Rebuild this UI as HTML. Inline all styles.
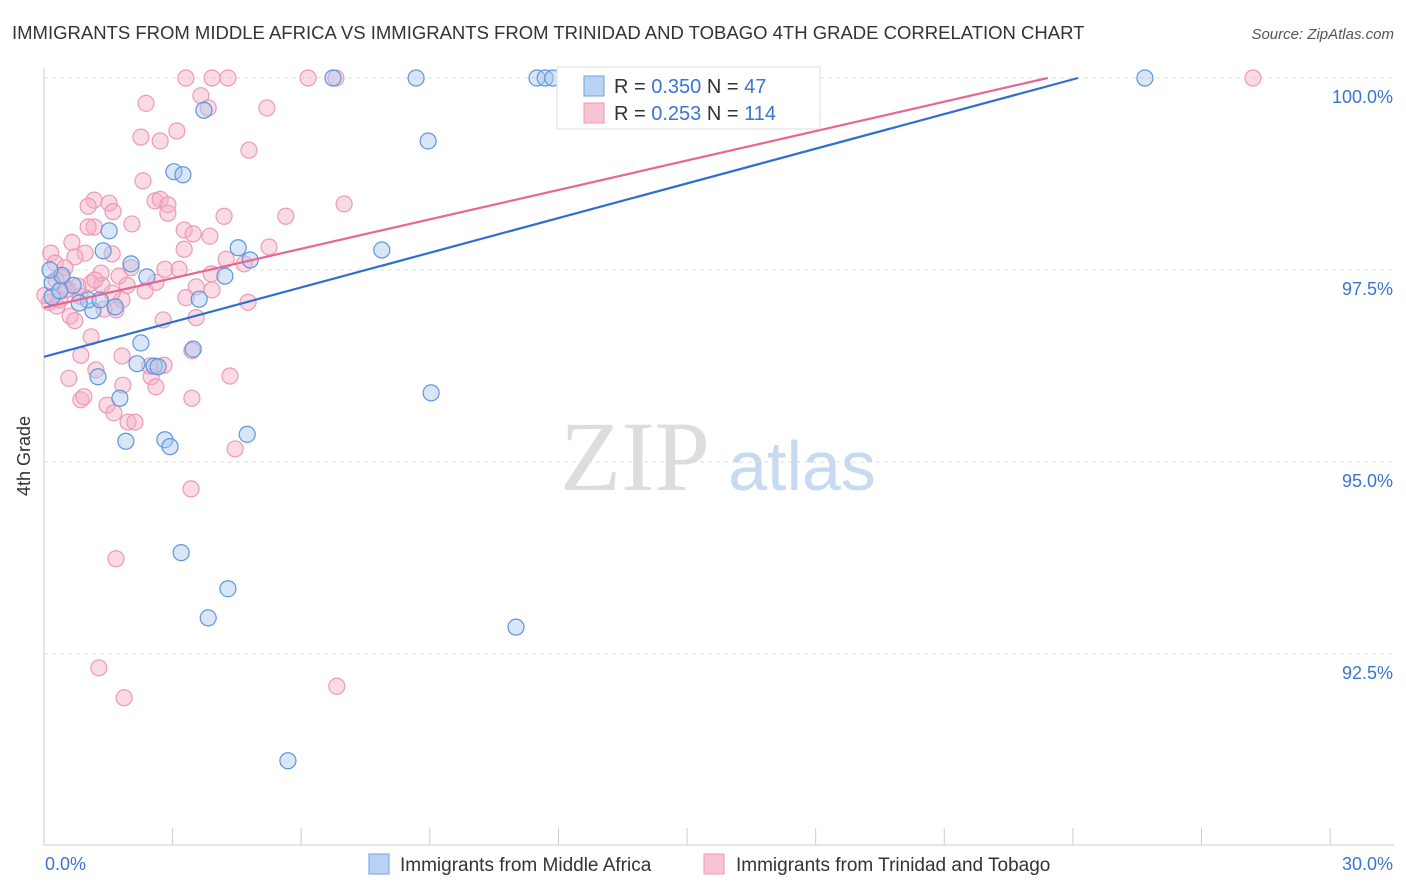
<!DOCTYPE html>
<html><head><meta charset="utf-8"><style>
body{margin:0;background:#fff;font-family:"Liberation Sans",sans-serif}
svg{display:block}
</style></head><body>
<svg width="1406" height="892" id="chart">
<text x="12" y="39" font-size="18.5" fill="#333">IMMIGRANTS FROM MIDDLE AFRICA VS IMMIGRANTS FROM TRINIDAD AND TOBAGO 4TH GRADE CORRELATION CHART</text>
<text x="1394" y="39" font-size="15" fill="#555" font-style="italic" text-anchor="end">Source: ZipAtlas.com</text>
<text x="30" y="456" font-size="18" fill="#333" transform="rotate(-90 30 456)" text-anchor="middle">4th Grade</text>
<g>
<text x="635" y="490" font-size="100" font-family="Liberation Serif,serif" fill="#ddd" text-anchor="middle">ZIP</text>
<text x="802" y="490" font-size="70" fill="#c8daf2" text-anchor="middle">atlas</text>
</g>
<g id="grid"></g>
<g id="axes"></g>
<g id="pts"></g>
<g id="lines"></g>
<g>
<rect x="557" y="67" width="263" height="62" fill="#fff" stroke="#ddd"/>
<rect x="584" y="76" width="20" height="20" fill="#b9d3f5" stroke="#6fa0e0"/>
<text x="614" y="93" font-size="20" fill="#333">R = <tspan fill="#3a75d0">0.350</tspan>   N = <tspan fill="#3a75d0"> 47</tspan></text>
<rect x="584" y="103" width="20" height="20" fill="#f8c3d3" stroke="#ec9ab5"/>
<text x="614" y="120" font-size="20" fill="#333">R = <tspan fill="#3a75d0">0.253</tspan>   N = <tspan fill="#3a75d0">114</tspan></text>
</g>
<g>
<rect x="369" y="854" width="20" height="20" fill="#b9d3f5" stroke="#6fa0e0"/>
<text x="400" y="871" font-size="19" fill="#333">Immigrants from Middle Africa</text>
<rect x="704" y="854" width="20" height="20" fill="#f8c3d3" stroke="#ec9ab5"/>
<text x="736" y="871" font-size="19" fill="#333">Immigrants from Trinidad and Tobago</text>
</g>
<text x="45" y="870" font-size="18" fill="#3a75d0">0.0%</text>
<text x="1393" y="870" font-size="18" fill="#3a75d0" text-anchor="end">30.0%</text>
</svg>
<script>
const yTicks=[100,97.5,95,92.5];
const yTickLabels=["100.0%","97.5%","95.0%","92.5%"];
const blueX=[6.74,8.68,11.50,11.69,11.87,25.68,3.73,8.96,3.03,3.24,1.52,4.53,7.88,1.38,2.03,4.81,4.22,2.40,0.19,0.68,3.62,1.14,1.66,1.03,2.26,3.48,2.57,2.17,2.66,1.26,9.03,1.77,4.74,2.82,2.94,1.91,3.20,4.29,3.83,11.01,5.69,0.19,0.37,0.82,0.42,1.31,0.14];
const blueY=[100,100,100,100,100,100,99.58,99.18,98.78,98.74,98.01,97.79,97.76,97.75,97.58,97.63,97.42,97.41,97.33,97.30,97.12,96.97,97.02,97.11,96.55,96.47,96.25,96.28,96.24,96.11,95.90,95.83,95.36,95.29,95.20,95.27,93.82,93.35,92.97,92.85,91.11,97.15,97.23,97.07,97.43,97.11,97.50];
const pinkX=[3.31,3.92,4.29,6.16,6.81,28.20,3.66,2.38,3.83,5.20,3.10,2.26,2.71,4.78,2.31,1.17,1.52,1.03,2.59,2.71,2.89,1.61,7.00,2.89,5.64,4.20,2.05,1.17,1.03,3.27,3.87,3.48,0.65,0.16,0.96,1.59,0.72,5.25,3.27,0.26,0.49,1.33,2.03,2.82,3.15,3.90,4.25,4.67,0.42,1.75,2.61,1.10,1.35,1.94,2.36,3.55,0.28,0.56,0.84,1.82,3.31,3.92,0.12,0.30,1.40,1.68,4.76,0.61,0.72,3.55,2.78,1.10,1.82,0.86,3.45,1.21,0.58,2.80,1.84,2.50,2.61,4.34,0.86,0.93,3.45,1.47,1.63,1.96,2.12,4.46,3.43,1.68,1.28,1.87,6.83,2.47,0.37,0.02,0.51,0.79,1.19,1.59];
const pinkY=[100,100,100,100,100,100,99.77,99.67,99.61,99.61,99.31,99.23,99.18,99.06,98.66,98.41,98.37,98.33,98.40,98.42,98.35,98.26,98.36,98.24,98.20,98.20,98.10,98.06,98.06,98.02,97.94,97.97,97.86,97.72,97.72,97.71,97.67,97.80,97.77,97.59,97.53,97.46,97.53,97.51,97.51,97.45,97.64,97.58,97.40,97.42,97.34,97.33,97.30,97.30,97.23,97.28,97.37,97.25,97.16,97.11,97.14,97.24,97.08,97.03,96.99,96.98,97.08,96.90,96.84,96.88,96.85,96.63,96.38,96.39,96.45,96.20,96.09,96.26,96.00,96.11,95.98,96.12,95.81,95.85,95.83,95.74,95.64,95.52,95.52,95.17,94.65,93.74,92.32,91.93,92.08,96.25,97.11,97.17,97.24,97.29,97.37,97.20];
const blueFit=[96.37,0.1505];
const pinkFit=[97.01,0.1277];
const X=v=>44+v*42.87, Y=v=>78+(100-v)*76.8;
const NS="http://www.w3.org/2000/svg";
function mk(t,a,p){const e=document.createElementNS(NS,t);for(const k in a)e.setAttribute(k,a[k]);document.getElementById(p).appendChild(e);return e;}
yTicks.forEach((t,i)=>{
 const l=mk('line',{x1:44,x2:1394,y1:Y(t),y2:Y(t),stroke:'#ddd','stroke-dasharray':'4 4'},'grid');
 
 
 const tx=mk('text',{x:1393,y:Y(t)+25,'font-size':18,fill:'#3a75d0','text-anchor':'end'},'grid');
 tx.textContent=yTickLabels[i];
 
 
});
const ax=mk('line',{x1:44,x2:1394,y1:845,y2:845,stroke:'#ccc'},'axes');


const ay=mk('line',{x1:44,x2:44,y1:68,y2:845,stroke:'#ccc'},'axes');


for(let i=0;i<=10;i++){
 const t=mk('line',{x1:X(i*3),x2:X(i*3),y1:828,y2:845,stroke:'#ccc'},'axes');
 
 
}
function pts(xs,ys,fill,stroke,name){
 for(let i=0;i<Math.min(xs.length,ys.length);i++){
  const c=mk('circle',{cx:X(xs[i]),cy:Y(ys[i]),r:8,fill:fill,'fill-opacity':0.45,stroke:stroke,'stroke-width':1.2},'pts');
  
  
 }
}
pts(pinkX,pinkY,'#f5b0c6','#ec9ab5','pink-point');
pts(blueX,blueY,'#a9c8f0','#5f95dd','blue-point');
function fit(f,color,name){
 const xe=(100-f[0])/f[1];
 const l=mk('line',{x1:X(0),y1:Y(f[0]),x2:X(xe),y2:Y(100),stroke:color,'stroke-width':2.2},'lines');
 
 
}
fit(blueFit,'#2e6fd1','blue-trend-line');
fit(pinkFit,'#e8668f','pink-trend-line');
</script>
</body></html>
